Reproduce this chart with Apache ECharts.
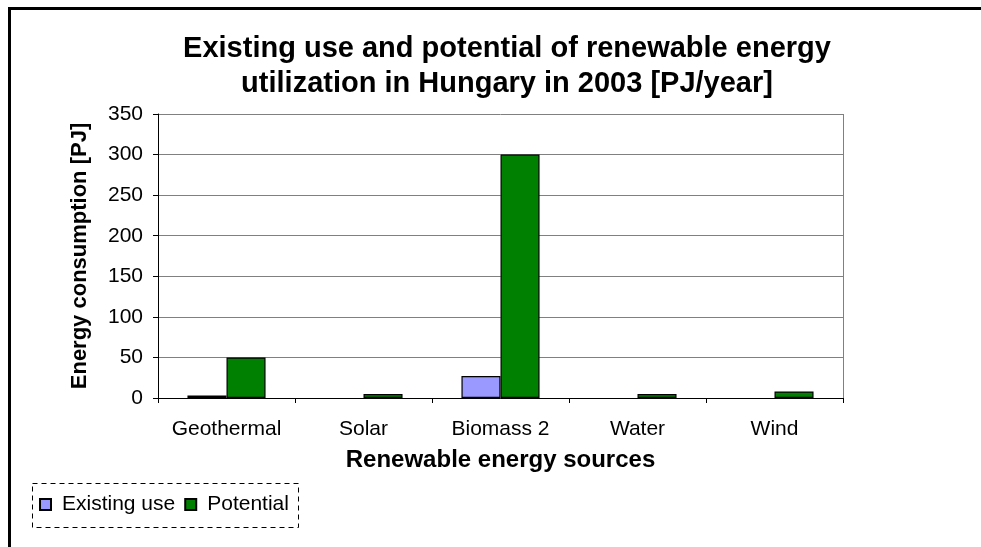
<!DOCTYPE html>
<html>
<head>
<meta charset="utf-8">
<script src="https://cdn.jsdelivr.net/npm/echarts@6/dist/echarts.min.js"></script>
<style>
  html, body { margin: 0; padding: 0; background: #fff; }
  #chart { width: 981px; height: 547px; }
</style>
</head>
<body>
<div id="chart"></div>
<script>
// Renewable energy sources in Hungary, 2003 (PJ/year)
const categories = ['Geothermal', 'Solar', 'Biomass 2', 'Water', 'Wind'];
const existingUse = [3, null, 27, null, null];
const potential = [50, 5, 300, 5, 8];
const yTicks = { min: 0, max: 350, interval: 50 };

const font = '"Liberation Sans", Arial, sans-serif';
const chart = echarts.init(document.getElementById('chart'), null, { renderer: 'canvas' });

chart.setOption({
  animation: false,
  backgroundColor: '#ffffff',
  title: {
    text: 'Existing use and potential of renewable energy\nutilization in Hungary in 2003 [PJ/year]',
    left: 502,
    top: 26,
    textAlign: 'center',
    textStyle: {
      fontFamily: font,
      fontWeight: 'bold',
      fontSize: 29,
      lineHeight: 35,
      color: '#000'
    }
  },
  legend: {
    left: 34,
    top: 489,
    itemWidth: 11,
    itemHeight: 11,
    itemGap: 9,
    icon: 'rect',
    textStyle: { fontFamily: font, fontSize: 21, color: '#000', padding: [0, 0, 0, 6] },
    data: ['Existing use', 'Potential']
  },
  grid: { left: 158, right: 138, top: 114, bottom: 149 },
  xAxis: {
    type: 'category',
    data: categories,
    name: 'Renewable energy sources',
    nameLocation: 'middle',
    nameGap: 50,
    nameTextStyle: { fontFamily: font, fontWeight: 'bold', fontSize: 24, color: '#000' },
    axisLine: { lineStyle: { color: '#000', width: 1 } },
    axisTick: { show: true, alignWithLabel: false, length: 5, lineStyle: { color: '#000' } },
    axisLabel: { fontFamily: font, fontSize: 21, color: '#000', margin: 21, interval: 0 },
    splitLine: { show: false }
  },
  yAxis: {
    type: 'value',
    min: yTicks.min,
    max: yTicks.max,
    interval: yTicks.interval,
    name: 'Energy consumption [PJ]',
    nameLocation: 'middle',
    nameGap: 67,
    nameTextStyle: { fontFamily: font, fontWeight: 'bold', fontSize: 22, color: '#000' },
    axisLine: { show: true, lineStyle: { color: '#000', width: 1 } },
    axisTick: { show: true, length: 5, lineStyle: { color: '#000' } },
    axisLabel: { fontFamily: font, fontSize: 21, color: '#000', margin: 15 },
    splitLine: { show: true, lineStyle: { color: '#808080', width: 1 } }
  },
  series: [
    {
      name: 'Existing use',
      type: 'bar',
      data: existingUse,
      barGap: '0%',
      barCategoryGap: '43%',
      itemStyle: { color: '#9999FF', borderColor: '#000', borderWidth: 1.2 }
    },
    {
      name: 'Potential',
      type: 'bar',
      data: potential,
      itemStyle: { color: '#008000', borderColor: '#000', borderWidth: 1.2 }
    }
  ],
  graphic: [
    // chart area frame (continues past the right and bottom edges)
    {
      type: 'rect',
      shape: { x: 9.5, y: 8.5, width: 1000, height: 600 },
      style: { fill: 'none', stroke: '#000', lineWidth: 3 },
      silent: true
    },
    // plot area right edge
    {
      type: 'line',
      shape: { x1: 843.5, y1: 114, x2: 843.5, y2: 398 },
      style: { stroke: '#808080', lineWidth: 1 },
      silent: true
    },
    // dashed legend frame
    {
      type: 'rect',
      shape: { x: 32.5, y: 483.5, width: 266, height: 44 },
      style: { fill: 'none', stroke: '#000', lineWidth: 1, lineDash: [5, 4] },
      silent: true
    }
  ]
});
</script>
</body>
</html>
